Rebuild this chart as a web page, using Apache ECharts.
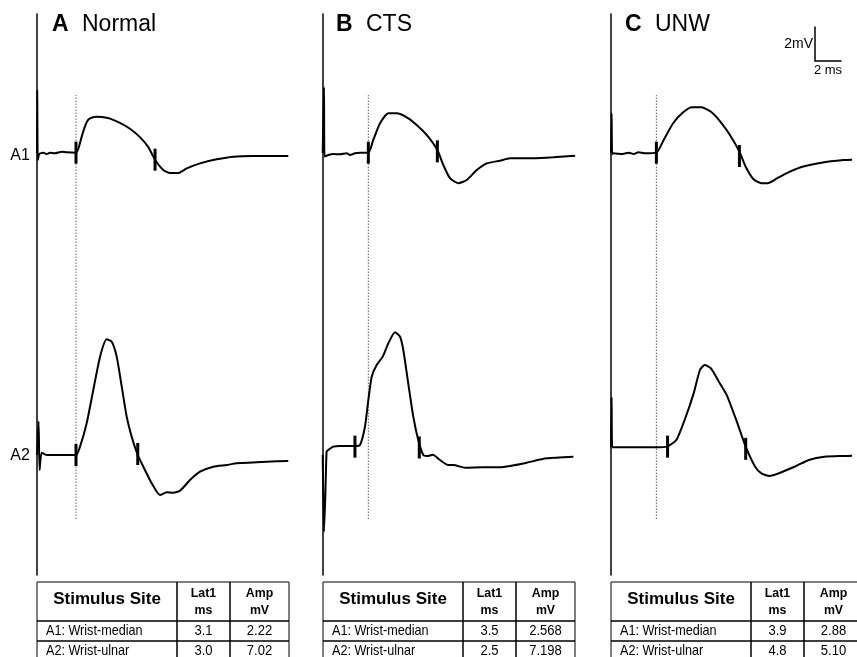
<!DOCTYPE html>
<html><head><meta charset="utf-8">
<script src="https://cdn.jsdelivr.net/npm/echarts@6/dist/echarts.min.js"></script>
<style>html,body{margin:0;padding:0;background:#fff}#c{width:857px;height:657px}</style>
</head><body><div id="c"></div>
<script>
// ---------------- DATA ----------------
const panelLetters = ['A', 'B', 'C'];
const panelTitles = ['Normal', 'CTS', 'UNW'];
const traceLabels = ['A1', 'A2'];
// traces: [time ms, amplitude mV]
const traceA1 = [[0,0],[0.02,3.77],[0.06,-0.42],[0.18,-0.06],[0.48,0.02],[0.75,-0.06],[1.0,0.02],[1.38,-0.02],[1.9,0.08],[2.28,0.04],[3.0,0.02],[3.2,0.3],[3.44,0.98],[3.69,1.6],[3.95,2.0],[4.3,2.14],[4.59,2.17],[5.0,2.15],[5.62,2.06],[6.38,1.8],[7.15,1.45],[7.92,0.95],[8.56,0.35],[9.08,-0.4],[9.72,-1.02],[10.23,-1.2],[10.87,-1.2],[11.52,-0.92],[12.54,-0.62],[13.82,-0.38],[15.1,-0.22],[16.64,-0.18],[19.33,-0.18]];
const traceA2 = [[0,0],[0.12,2.0],[0.2,-0.9],[0.36,0.14],[0.75,0],[3.0,0],[3.31,0.5],[3.82,1.9],[4.33,3.89],[4.85,5.89],[5.36,6.93],[5.75,6.78],[6.13,5.89],[6.52,4.09],[6.9,2.29],[7.28,1.1],[7.75,0],[8.18,-0.7],[8.82,-1.69],[9.46,-2.4],[9.98,-2.23],[10.48,-2.26],[11.0,-2.14],[11.77,-1.5],[12.54,-1.0],[13.56,-0.7],[14.59,-0.6],[15.36,-0.5],[17.67,-0.4],[19.33,-0.36]];
const traceB1 = [[0,0],[0.1,3.93],[0.14,-0.22],[0.43,-0.12],[0.82,-0.06],[1.33,-0.08],[1.85,-0.02],[2.1,-0.12],[2.48,-0.02],[2.87,0.02],[3.51,0.02],[3.89,0.78],[4.41,1.78],[5.05,2.38],[5.69,2.38],[6.46,2.14],[7.23,1.68],[8.0,1.08],[8.82,0.18],[9.28,-0.72],[9.79,-1.51],[10.43,-1.81],[11.08,-1.62],[11.85,-1.02],[12.62,-0.62],[13.64,-0.46],[14.41,-0.32],[16.2,-0.32],[17.74,-0.26],[19.42,-0.16]];
const traceB2 = [[0,0],[0.1,-4.6],[0.2,-2.5],[0.3,0.2],[0.43,0.3],[0.82,0.5],[1.33,0.54],[2.48,0.54],[2.87,0.6],[3.25,1.69],[3.51,3.29],[3.77,4.69],[4.15,5.39],[4.62,5.89],[5.05,6.69],[5.56,7.35],[5.95,7.08],[6.2,6.29],[6.58,4.29],[6.97,2.29],[7.35,0.9],[7.74,0],[8.12,-0.06],[8.48,0.02],[9.02,-0.3],[9.66,-0.6],[10.05,-0.6],[10.95,-0.76],[12.35,-0.74],[13.64,-0.74],[14.41,-0.66],[15.69,-0.46],[17.23,-0.2],[19.28,-0.1]];
const traceC1 = [[0,0],[0.05,2.38],[0.09,-0.06],[0.18,-0.02],[0.95,-0.06],[1.46,0.02],[1.85,-0.06],[2.23,0.04],[2.75,-0.02],[3.69,0.02],[4.28,0.78],[5.05,1.78],[5.82,2.41],[6.59,2.74],[7.36,2.74],[8.13,2.47],[8.9,1.87],[9.67,1.08],[10.44,0.08],[10.95,-0.82],[11.59,-1.57],[12.23,-1.81],[12.75,-1.81],[13.52,-1.51],[14.54,-1.12],[15.56,-0.82],[17.1,-0.58],[18.9,-0.42],[19.6,-0.4]];
const traceC2 = [[0,0.46],[0.05,3.46],[0.1,0.46],[0.31,0.46],[3.69,0.46],[4.54,0.5],[5.31,0.9],[6.08,2.29],[6.72,3.69],[7.23,5.09],[7.62,5.39],[8.13,5.19],[8.77,4.39],[9.41,3.59],[10.18,2.1],[10.95,0.5],[11.72,-0.7],[12.23,-1.1],[12.87,-1.26],[13.77,-1.06],[15.05,-0.66],[16.08,-0.3],[17.36,-0.1],[18.9,-0.06],[19.6,-0.05]];
// latency cursors [ms, mV]
const markA1 = [[3.0,0.02],[9.08,-0.4]];
const markA2 = [[3.0,0.0],[7.75,0.06]];
const markB1 = [[3.51,0.02],[8.82,0.1]];
const markB2 = [[2.48,0.5],[7.43,0.45]];
const markC1 = [[3.69,0.02],[10.44,-0.18]];
const markC2 = [[4.6,0.5],[10.95,0.37]];
// scale bar
const scaleMs = 2, scaleMv = 2;
// tables
const tableHeader = ['Stimulus Site', 'Lat1\nms', 'Amp\nmV'];
const siteNames = ['A1: Wrist-median', 'A2: Wrist-ulnar'];
const lat1A = ['3.1', '3.0'], ampA = ['2.22', '7.02'];
const lat1B = ['3.5', '2.5'], ampB = ['2.568', '7.198'];
const lat1C = ['3.9', '4.8'], ampC = ['2.88', '5.10'];

// ---------------- LAYOUT ----------------
const FONT = '"Liberation Sans", Arial, Helvetica, sans-serif';
const X0 = [37, 322.7, 611];
const PX_MS = 13, PX_MV = 16.7;
const ROW_REF = [153, 455];
const T_MAX = 20, V_MIN = -6, V_MAX = 8;
const traces = [[traceA1, traceA2], [traceB1, traceB2], [traceC1, traceC2]];
const marks = [[markA1, markA2], [markB1, markB2], [markC1, markC2]];
const lats = [lat1A, lat1B, lat1C], amps = [ampA, ampB, ampC];

const grids = [], xAxes = [], yAxes = [], series = [];
function addGrid(g, xa, ya) {
  grids.push(Object.assign({containLabel: false}, g));
  const i = grids.length - 1;
  xAxes.push(Object.assign({gridIndex: i}, xa));
  yAxes.push(Object.assign({gridIndex: i}, ya));
  return i;
}
const hiddenX = () => ({type: 'value', min: 0, max: T_MAX, show: false});
const W = T_MAX * PX_MS;

for (let p = 0; p < 3; p++) {
  // panel stimulus line (t = 0)
  addGrid({left: X0[p], top: 14, width: W, height: 561}, hiddenX(),
    {type: 'value', min: 0, max: 1, axisLine: {show: true, onZero: false, lineStyle: {color: '#000', width: 1.5}},
     axisTick: {show: false}, axisLabel: {show: false}, splitLine: {show: false}});
  // dotted latency guide
  const gg = addGrid({left: X0[p], top: 95, width: W, height: 424}, hiddenX(), {type: 'value', min: 0, max: 1, show: false});
  const lt = marks[p][0][0][0];
  series.push({type: 'line', xAxisIndex: gg, yAxisIndex: gg, data: [[lt, 0], [lt, 1]], symbol: 'none', silent: true,
    lineStyle: {color: '#666', width: 1, type: [1.5, 1.5]}});
  for (let r = 0; r < 2; r++) {
    const gi = addGrid({left: X0[p], top: ROW_REF[r] - V_MAX * PX_MV, width: W, height: (V_MAX - V_MIN) * PX_MV},
      hiddenX(), {type: 'value', min: V_MIN, max: V_MAX, show: false});
    series.push({type: 'line', xAxisIndex: gi, yAxisIndex: gi, data: traces[p][r], symbol: 'none', smooth: 0.2,
      clip: false, silent: true, lineStyle: {color: '#000', width: 2}});
    series.push({type: 'scatter', xAxisIndex: gi, yAxisIndex: gi, data: marks[p][r], symbol: 'rect', symbolSize: [3, 22],
      silent: true, itemStyle: {color: '#000', opacity: 1}, z: 3});
  }
}
// scale bar
addGrid({left: 815, top: 27, width: scaleMs * PX_MS, height: scaleMv * PX_MV},
  {type: 'value', min: 0, max: scaleMs, axisLine: {show: true, lineStyle: {color: '#000', width: 1.5}}, axisTick: {show: false},
   axisLabel: {show: false}, splitLine: {show: false}, name: scaleMs + ' ms', nameLocation: 'middle', nameGap: 4,
   nameTextStyle: {fontFamily: FONT, fontSize: 13, color: '#000', verticalAlign: 'top'}},
  {type: 'value', min: 0, max: scaleMv, axisLine: {show: true, lineStyle: {color: '#000', width: 1.5}}, axisTick: {show: false},
   axisLabel: {show: false}, splitLine: {show: false}, name: scaleMv + 'mV', nameLocation: 'middle', nameRotate: 0, nameGap: 2,
   nameTextStyle: {fontFamily: FONT, fontSize: 14, color: '#000', align: 'right', verticalAlign: 'middle', padding: [14, 0, 0, 0]}});

// ---------------- GRAPHIC TEXT / TABLES ----------------
const graphic = [];
function txt(x, y, text, font, align, sx) {
  graphic.push({type: 'text', x: x, y: y, scaleX: sx || 1, silent: true,
    style: {text: text, font: font, fill: '#000', textAlign: align || 'left', textVerticalAlign: 'middle', align: align || 'left', verticalAlign: 'middle'}});
}
const TITLE_X = [52, 336, 625];
for (let p = 0; p < 3; p++) {
  txt(TITLE_X[p], 25, panelLetters[p], 'bold 23px ' + FONT);
  txt(TITLE_X[p] + 30, 25, panelTitles[p], '23px ' + FONT);
}
txt(20, 156, traceLabels[0], '16px ' + FONT, 'center');
txt(20, 456, traceLabels[1], '16px ' + FONT, 'center');

const TBL_X = [37, 323, 611];
const COLW = [140, 53, 59];
const ROWS = [582, 621, 641, 661];
for (let p = 0; p < 3; p++) {
  let cx = TBL_X[p];
  for (let c = 0; c < 3; c++) {
    for (let r = 0; r < 3; r++) {
      graphic.push({type: 'rect', silent: true, shape: {x: cx, y: ROWS[r], width: COLW[c], height: ROWS[r + 1] - ROWS[r]},
        style: {fill: 'none', stroke: '#000', lineWidth: 1}});
    }
    const mid = cx + COLW[c] / 2;
    const hy = (ROWS[0] + ROWS[1]) / 2;
    if (c === 0) txt(mid, hy - 2, tableHeader[0], 'bold 17px ' + FONT, 'center');
    else {
      const parts = tableHeader[c].split('\n');
      txt(mid, hy - 8, parts[0], 'bold 13px ' + FONT, 'center', 0.95);
      txt(mid, hy + 9, parts[1], 'bold 13px ' + FONT, 'center', 0.95);
    }
    for (let r = 0; r < 2; r++) {
      const y = (ROWS[r + 1] + ROWS[r + 2]) / 2;
      if (c === 0) txt(cx + 9, y, siteNames[r], '14.5px ' + FONT, 'left', 0.87);
      else if (c === 1) txt(mid, y, lats[p][r], '14.5px ' + FONT, 'center', 0.9);
      else txt(mid, y, amps[p][r], '14.5px ' + FONT, 'center', 0.9);
    }
    cx += COLW[c];
  }
}

const chart = echarts.init(document.getElementById('c'), null, {renderer: 'canvas'});
chart.setOption({
  animation: false,
  backgroundColor: '#fff',
  grid: grids, xAxis: xAxes, yAxis: yAxes, series: series, graphic: graphic
});
</script></body></html>
